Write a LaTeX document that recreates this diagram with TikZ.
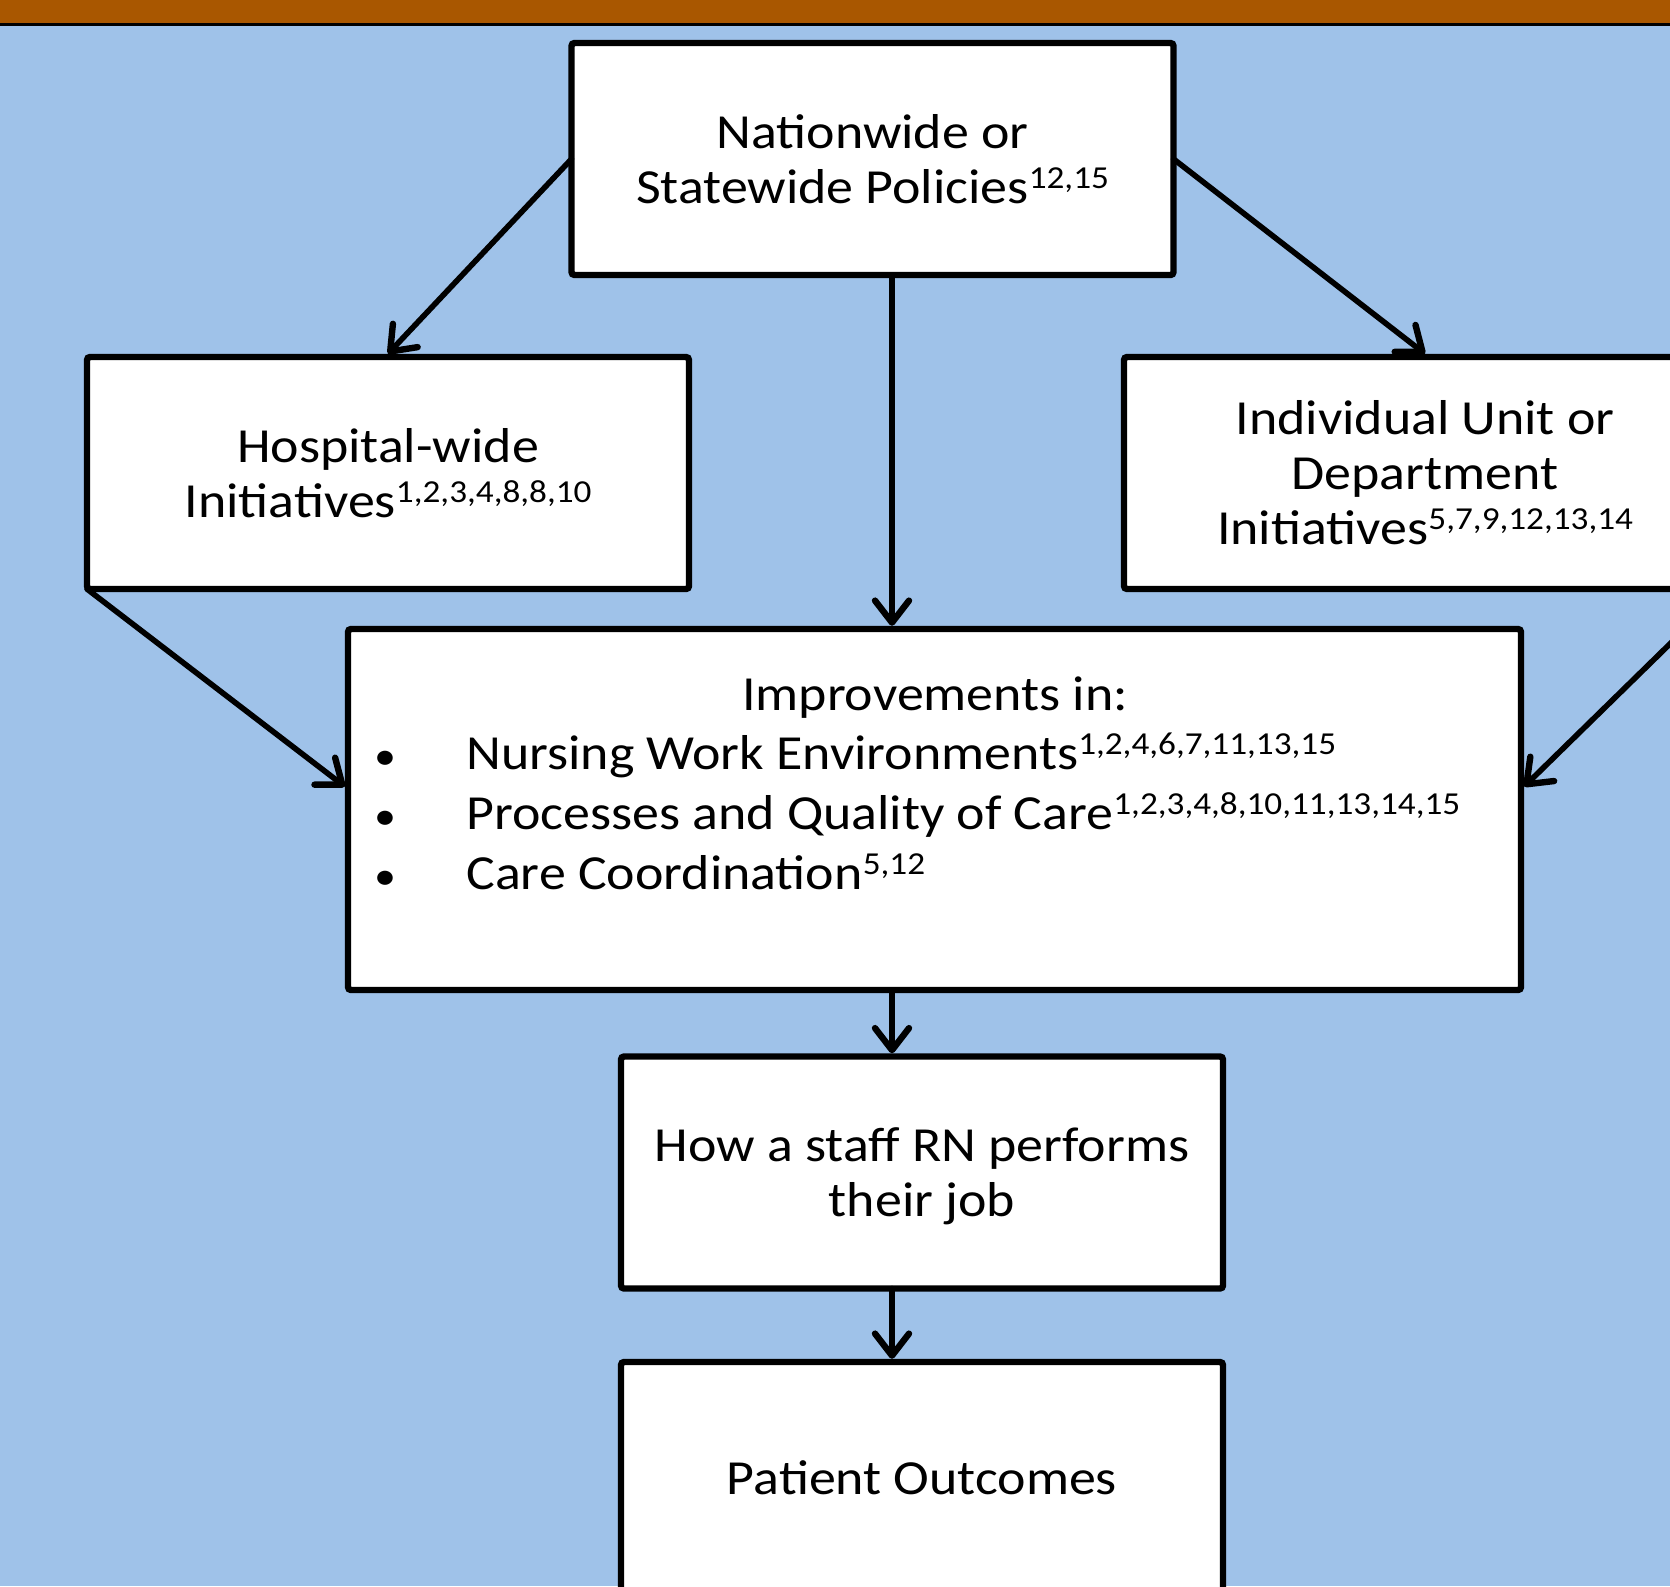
\documentclass[tikz,border=0pt]{standalone}
\usepackage{fontspec}
\setmainfont{Carlito}[FakeStretch=1.1]
\usepackage{tikz}
\usetikzlibrary{arrows.meta, positioning}
\definecolor{slidebar}{HTML}{A95700}
\definecolor{slideblue}{HTML}{9FC2E9}
\newcommand{\refs}[1]{\raisebox{7.5pt}{\fontsize{16}{16}\selectfont #1}}
\newcommand{\dotmark}{\makebox[46pt][l]{\fontsize{20}{20}\selectfont\textbullet}}

\begin{document}
\begin{tikzpicture}[
    x=0.5pt, y=-0.5pt,
    every node/.style={font=\fontsize{24.5}{27.5}\selectfont},
    flowbox/.style={rectangle, draw=black, line width=3.2pt, fill=white, rounded corners=1.5pt, align=center, inner sep=0pt, outer sep=0pt, minimum width=301pt, minimum height=116pt},
    flowarrow/.style={line width=2.8pt, line cap=round, -{Straight Barb[length=11pt, width=17pt, round, line width=3.2pt]}},
]
% slide background
\path[use as bounding box, clip] (0,0) rectangle (1670,1586);
\fill[slideblue] (0,0) rectangle (1670,1586);
\fill[slidebar] (0,0) rectangle (1670,24);
\draw[line width=1.4pt] (0,24.7) -- (1670,24.7);
% boxes
\node[flowbox] (policy) at (872.5,159) {Nationwide or\\Statewide Policies\refs{12,15}};
\node[flowbox] (hospital) at (388,473) {Hospital-wide\\Initiatives\refs{1,2,3,4,8,8,10}};
\node[flowbox] (unit) at (1425,473) {Individual Unit or\\Department\\Initiatives\refs{5,7,9,12,13,14}};
\node[flowbox, minimum width=586.5pt, minimum height=180.5pt] (impr) at (934.5,809.5) {};
\node[anchor=base] (imprhead) at (935,710) {Improvements in:};
\node[anchor=north west, align=left, inner sep=0pt, font=\fontsize{24.5}{30}\selectfont] (imprlist) at (374,732) {%
  \dotmark Nursing Work Environments\refs{1,2,4,6,7,11,13,15}\\
  \dotmark Processes and Quality of Care\refs{1,2,3,4,8,10,11,13,14,15}\\
  \dotmark Care Coordination\refs{5,12}};
\node[flowbox, text depth=0pt] (rn) at (922,1172.5) {How a staff RN performs\\their job};
\node[flowbox, text depth=0pt] (patient) at (922,1478) {Patient Outcomes};
% connectors
\coordinate (spine) at (892,0);
\draw[flowarrow] (policy.west) -- ([yshift=1.6pt]hospital.north);
\draw[flowarrow] (policy.east) -- ([yshift=1.6pt]unit.north);
\draw[flowarrow] (policy.south -| spine) -- ([yshift=1.6pt]impr.north -| spine);
\draw[flowarrow] (hospital.south west) -- ([xshift=-1.6pt, yshift=11.5pt]impr.west);
\draw[flowarrow] (unit.south east) -- ([xshift=1.6pt, yshift=11.5pt]impr.east);
\draw[flowarrow] (impr.south -| spine) -- ([yshift=1.6pt]rn.north -| spine);
\draw[flowarrow] (rn.south -| spine) -- ([yshift=1.6pt]patient.north -| spine);
\end{tikzpicture}
\end{document}
